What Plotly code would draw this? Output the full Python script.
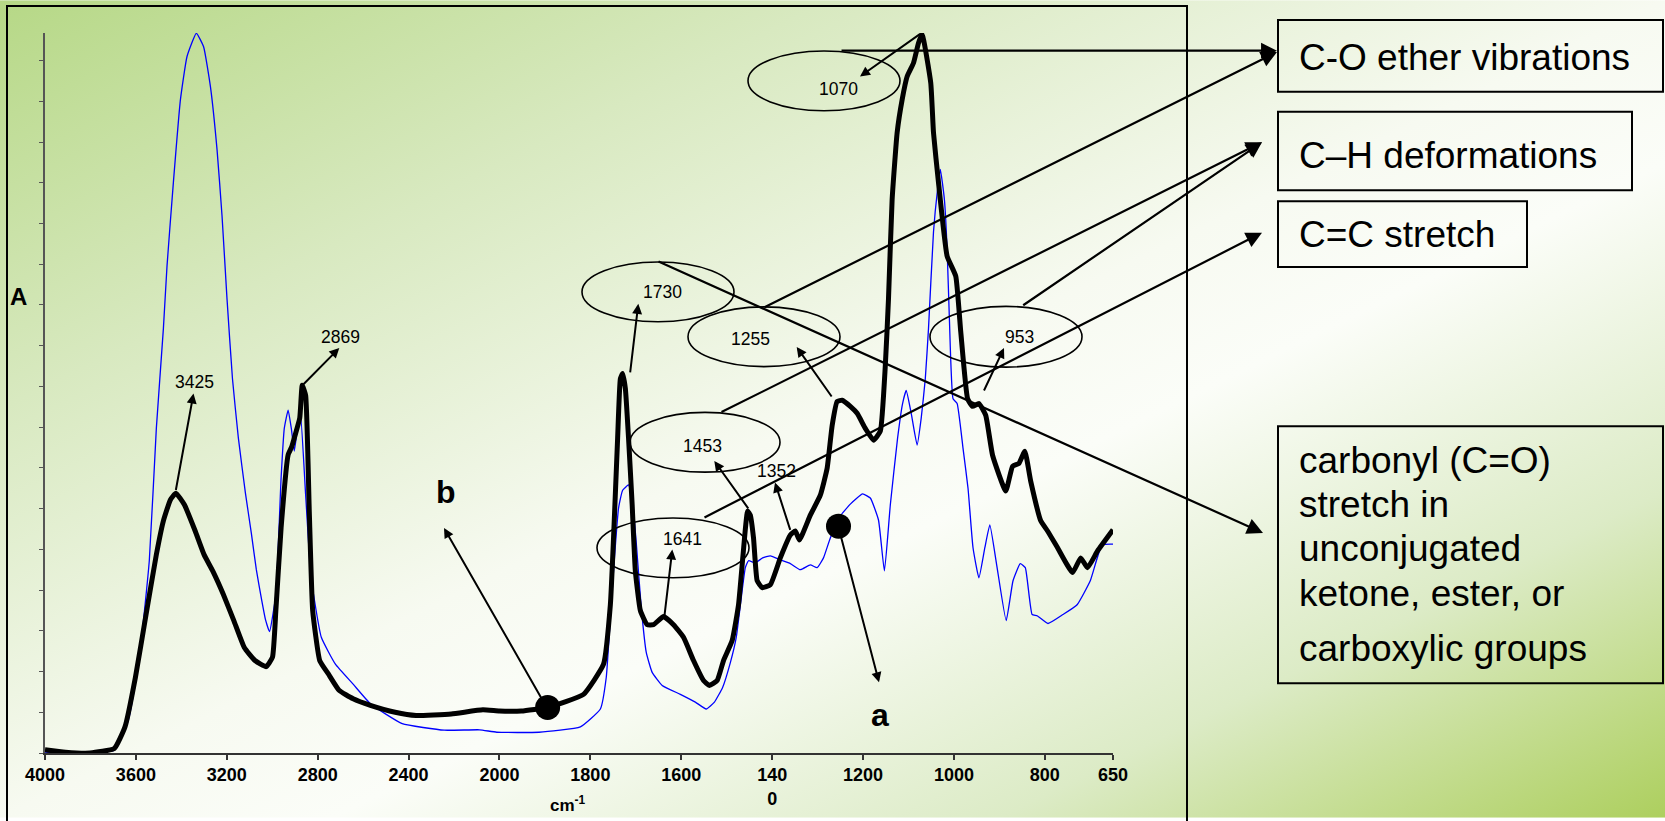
import base64
import plotly.graph_objects as go

# ---------------- data ----------------
# spectrum b (thick black)
wn_b = [4000, 3910, 3802, 3695, 3648, 3602, 3555, 3510, 3479, 3448,
        3424, 3387, 3339, 3300, 3262, 3215, 3169, 3123, 3076, 3027,
        2999, 2984, 2961, 2930, 2914, 2899, 2879, 2868, 2853, 2837,
        2822, 2791, 2753, 2706, 2644, 2568, 2459, 2367, 2212, 2073,
        2000, 1952, 1894, 1815, 1771, 1756, 1749, 1740, 1734, 1729,
        1723, 1716, 1708, 1701, 1690, 1675, 1661, 1639, 1617, 1595,
        1573, 1551, 1538, 1521, 1507, 1488, 1474, 1464, 1454, 1448,
        1441, 1433, 1422, 1404, 1382, 1360, 1349, 1340, 1316, 1294,
        1279, 1268, 1257, 1246, 1228, 1213, 1195, 1177, 1162, 1151,
        1144, 1136, 1125, 1114, 1103, 1089, 1078, 1070, 1051, 1045,
        1034, 1015, 996, 985, 970, 959, 945, 930, 915, 886,
        871, 857, 844, 831, 809, 794, 772, 739, 721, 706,
        684, 650]
abs_b = [0.008, 0.002, 0.000, 0.011, 0.064, 0.186, 0.341, 0.487, 0.570, 0.622,
         0.638, 0.610, 0.545, 0.487, 0.447, 0.389, 0.325, 0.259, 0.227, 0.212,
         0.235, 0.350, 0.553, 0.732, 0.752, 0.781, 0.822, 0.903, 0.878, 0.594,
         0.350, 0.227, 0.194, 0.154, 0.133, 0.117, 0.100, 0.092, 0.096, 0.106,
         0.103, 0.103, 0.112, 0.144, 0.218, 0.364, 0.528, 0.773, 0.919, 0.932,
         0.895, 0.773, 0.609, 0.447, 0.350, 0.315, 0.315, 0.335, 0.315, 0.284,
         0.227, 0.178, 0.166, 0.178, 0.227, 0.276, 0.364, 0.487, 0.594, 0.584,
         0.528, 0.423, 0.406, 0.413, 0.479, 0.535, 0.545, 0.523, 0.584, 0.633,
         0.699, 0.804, 0.863, 0.866, 0.851, 0.834, 0.797, 0.768, 0.790, 0.951,
         1.115, 1.359, 1.523, 1.604, 1.661, 1.694, 1.743, 1.765, 1.645, 1.523,
         1.401, 1.220, 1.171, 1.034, 0.870, 0.851, 0.858, 0.829, 0.731, 0.643,
         0.704, 0.711, 0.741, 0.667, 0.570, 0.545, 0.504, 0.443, 0.479, 0.455,
         0.496, 0.548]

# spectrum a (thin blue)
wn_a = [4000, 3844, 3695, 3633, 3586, 3541, 3510, 3479, 3463, 3435,
        3404, 3375, 3334, 3302, 3272, 3243, 3221, 3199, 3175, 3149,
        3118, 3092, 3070, 3046, 3030, 3012, 2984, 2961, 2947, 2930,
        2916, 2903, 2889, 2876, 2853, 2829, 2784, 2722, 2644, 2568,
        2428, 2243, 2088, 2012, 1913, 1822, 1778, 1765, 1756, 1747,
        1738, 1729, 1716, 1708, 1699, 1688, 1677, 1664, 1642, 1602,
        1569, 1545, 1527, 1509, 1492, 1479, 1468, 1459, 1452, 1437,
        1421, 1404, 1382, 1360, 1338, 1316, 1301, 1287, 1272, 1250,
        1228, 1201, 1184, 1166, 1153, 1140, 1124, 1113, 1105, 1094,
        1081, 1072, 1063, 1056, 1045, 1036, 1030, 1021, 1015, 1010,
        1002, 993, 980, 969, 958, 945, 932, 921, 906, 885,
        870, 854, 843, 828, 817, 793, 760, 729, 700, 674,
        650]
abs_a = [0.002, 0.000, 0.007, 0.081, 0.227, 0.472, 0.797, 1.042, 1.196, 1.401,
         1.604, 1.710, 1.767, 1.734, 1.636, 1.482, 1.319, 1.115, 0.919, 0.773,
         0.638, 0.540, 0.450, 0.374, 0.328, 0.298, 0.389, 0.675, 0.797, 0.842,
         0.797, 0.741, 0.797, 0.834, 0.634, 0.430, 0.284, 0.218, 0.169, 0.121,
         0.072, 0.056, 0.057, 0.051, 0.051, 0.064, 0.108, 0.186, 0.333, 0.479,
         0.601, 0.645, 0.658, 0.626, 0.516, 0.357, 0.247, 0.198, 0.166, 0.144,
         0.125, 0.108, 0.125, 0.161, 0.222, 0.284, 0.381, 0.455, 0.472, 0.467,
         0.479, 0.484, 0.474, 0.465, 0.450, 0.462, 0.455, 0.479, 0.528, 0.582,
         0.611, 0.636, 0.626, 0.572, 0.447, 0.609, 0.773, 0.858, 0.890, 0.834,
         0.756, 0.822, 0.919, 1.042, 1.279, 1.384, 1.433, 1.359, 1.237, 1.066,
         0.870, 0.858, 0.748, 0.650, 0.504, 0.430, 0.504, 0.560, 0.462, 0.325,
         0.423, 0.465, 0.455, 0.340, 0.337, 0.318, 0.340, 0.364, 0.423, 0.511,
         0.513]

# marker dots labelled a / b
dot_wn = [1254, 1894]
dot_abs = [0.557, 0.112]

tick_wn = [4000, 3600, 3200, 2800, 2400, 2000, 1800, 1600, 1400, 1200, 1000, 800, 650]
tick_text = ["4000", "3600", "3200", "2800", "2400", "2000", "1800", "1600",
             "140<br>0", "1200", "1000", "800", "650"]

peak_labels = ["3425", "2869", "1730", "1641", "1453", "1352", "1255", "1070", "953"]
band_labels = ["C-O ether vibrations", "C\u2013H deformations", "C=C stretch"]
carbonyl_lines = ["carbonyl (C=O)", "stretch in", "unconjugated",
                  "ketone, ester, or", "carboxylic groups"]

assert len(wn_b) == len(abs_b) and len(wn_a) == len(abs_a)


# broken wavenumber scale: 400 cm-1 per division above 2000, 200 below
def xu(wn):
    return (4000 - wn) / 400.0 if wn >= 2000 else 5 + (2000 - wn) / 200.0


# ---------------- geometry ----------------
W, H = 1665, 821
ML, MR, MT, MB = 45, 552, 33, 65
PW = W - ML - MR
PH = H - MT - MB
YMAX = PH / 409.0
FONT = "Liberation Sans, Arial, sans-serif"


def px(x):
    return (x - ML) / PW


def py(y):
    return (H - MB - y) / PH


fig = go.Figure()
fig.add_trace(go.Scatter(x=[xu(w) for w in wn_a], y=abs_a, mode="lines", name="a",
                         line=dict(color="#0000ff", width=1.3, shape="spline", smoothing=0.4),
                         hoverinfo="skip"))
fig.add_trace(go.Scatter(x=[xu(w) for w in wn_b], y=abs_b, mode="lines", name="b",
                         line=dict(color="black", width=5, shape="spline", smoothing=0.4),
                         hoverinfo="skip"))
fig.add_trace(go.Scatter(x=[xu(w) for w in dot_wn], y=dot_abs, mode="markers",
                         marker=dict(color="black", size=25), hoverinfo="skip"))

shapes = []
annotations = []

# outer frame
shapes.append(dict(type="rect", xref="paper", yref="paper",
                   x0=px(7), x1=px(1187), y0=py(835), y1=py(6),
                   line=dict(color="black", width=2)))

# ellipses (center x, center y, rx, ry) in px
ellipses = [(824, 81, 76, 30), (658, 293, 76, 30), (764, 338, 76, 30),
            (1006, 338, 76, 30.5), (705, 444, 75, 30), (673, 550, 76, 30)]
for cx, cy, rx, ry in ellipses:
    shapes.append(dict(type="circle", xref="paper", yref="paper",
                       x0=px(cx - rx), x1=px(cx + rx), y0=py(cy + ry), y1=py(cy - ry),
                       line=dict(color="black", width=1.6)))

# boxes
boxes = [(1278, 20, 1663, 92), (1278, 112, 1632, 191), (1278, 202, 1527, 268),
         (1278, 428, 1663, 686)]
for x0, y0, x1, y1 in boxes:
    shapes.append(dict(type="rect", xref="paper", yref="paper",
                       x0=px(x0), x1=px(x1), y0=py(y1), y1=py(y0),
                       line=dict(color="black", width=2)))


def arrow(tail, tip, w=2.0, s=1.0):
    x, y = tip
    return dict(x=px(x), y=py(y), xref="paper", yref="paper",
                ax=tail[0] - x, ay=tail[1] - y, text="", showarrow=True,
                arrowhead=2, arrowwidth=w, arrowsize=s, arrowcolor="black",
                standoff=0, startstandoff=0)


small_arrows = [((175.6, 493), (193.5, 395)), ((302, 387), (339.3, 349.3)),
                ((630, 375), (638.3, 305)), ((664.3, 619.3), (672.3, 551.7)),
                ((749.3, 511.7), (714.3, 462.7)), ((790.7, 533.3), (775, 484.3)),
                ((832.7, 399.3), (796.7, 348.3)), ((921.7, 33), (860, 76.7)),
                ((983.3, 393.3), (1004, 349.3)), ((547, 710), (444, 530)),
                ((838, 528), (879, 685))]
for t, h in small_arrows:
    annotations.append(arrow(t, h, 2.0, 1.0))

box_arrows = [((840, 50.7), (1277, 50.7)), ((763, 308), (1277, 52)),
              ((720, 413.3), (1262, 142.7)), ((1021.7, 306.7), (1262, 142.7)),
              ((703, 519), (1262, 233.5)), ((657, 263), (1263, 535))]
for t, h in box_arrows:
    annotations.append(arrow(t, h, 2.2, 1.45))


def label(x, y, text, size, bold=False, xanchor="center"):
    return dict(x=px(x), y=py(y), xref="paper", yref="paper", text=text,
                showarrow=False, xanchor=xanchor, yanchor="middle",
                font=dict(family=FONT, size=size, color="black",
                          weight="bold" if bold else "normal"))


peak_pos = [(194, 383), (340, 338), (662, 293), (682, 541), (702, 448),
            (776, 473), (750, 340), (838, 89), (1019, 338)]
for (x, y), t in zip(peak_pos, peak_labels):
    annotations.append(label(x, y, t, 17.5))

band_y = [58, 156, 235]
for y, t in zip(band_y, band_labels):
    annotations.append(label(1297, y, t, 37, xanchor="left"))

carb_y = [462, 506, 551, 596, 651]
for y, t in zip(carb_y, carbonyl_lines):
    annotations.append(label(1297, y, t, 37, xanchor="left"))

annotations.append(label(446, 494, "b", 32, bold=True))
annotations.append(label(880, 718, "a", 32, bold=True))
annotations.append(label(18, 298, "A", 24, bold=True))
annotations.append(label(568, 807, "cm<sup>-1</sup>", 17, bold=True))

# background gradient
svg = ('<svg xmlns="http://www.w3.org/2000/svg" width="1665" height="821" '
       'preserveAspectRatio="none"><defs><linearGradient id="g" x1="0" y1="0" x2="1" y2="1">'
       '<stop offset="0" stop-color="#b6d886"/>'
       '<stop offset="0.25" stop-color="#d8e9c0"/>'
       '<stop offset="0.5" stop-color="#f7faf1"/>'
       '<stop offset="0.6" stop-color="#fbfdf8"/>'
       '<stop offset="0.8" stop-color="#dcebc6"/>'
       '<stop offset="1" stop-color="#adcf5e"/>'
       '</linearGradient></defs><rect width="1665" height="821" fill="url(#g)"/></svg>')
src = "data:image/svg+xml;base64," + base64.b64encode(svg.encode()).decode()

fig.update_layout(
    width=W, height=H, autosize=False,
    margin=dict(l=ML, r=MR, t=MT, b=MB, pad=0),
    paper_bgcolor="white", plot_bgcolor="rgba(0,0,0,0)",
    showlegend=False,
    images=[dict(source=src, xref="paper", yref="paper", x=px(0), y=py(0),
                 sizex=W / PW, sizey=H / PH, xanchor="left", yanchor="top",
                 sizing="stretch", layer="below")],
    shapes=shapes, annotations=annotations,
    xaxis=dict(range=[0, xu(650)], tickvals=[xu(v) for v in tick_wn], ticktext=tick_text,
               showgrid=False, zeroline=False, showline=True, linecolor="#333",
               linewidth=1.5, ticks="outside", ticklen=5, tickwidth=1.5, tickcolor="#333",
               tickfont=dict(family=FONT, size=18, color="black", weight="bold"),
               fixedrange=True),
    yaxis=dict(range=[0, YMAX], dtick=0.1, tick0=0, showticklabels=False,
               showgrid=False, zeroline=False, showline=True, linecolor="#555",
               linewidth=1.5, ticks="outside", ticklen=4, tickwidth=1.2, tickcolor="#555",
               fixedrange=True),
)

fig.write_html("out.html", config={"displayModeBar": False},
               post_script="document.body.style.margin='0';"
                           "document.body.style.overflow='hidden';")
